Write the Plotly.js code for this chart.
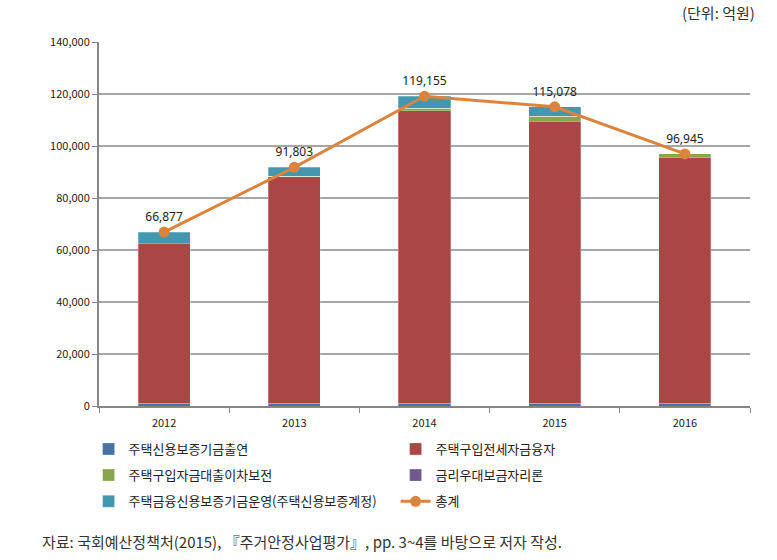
<!DOCTYPE html>
<html>
<head>
<meta charset="utf-8">
<script src="https://cdn.plot.ly/plotly-3.0.1.min.js"></script>
<style>
html,body{margin:0;padding:0;background:#fff;}
#chart{width:777px;height:560px;}
</style>
</head>
<body>
<div id="chart"></div>
<script>
const years = ['2012', '2013', '2014', '2015', '2016'];
const seriesNames = ['주택신용보증기금출연', '주택구입전세자금융자', '주택구입자금대출이차보전', '금리우대보금자리론', '주택금융신용보증기금운영(주택신용보증계정)', '총계'];
const guaranteeFund = [1100, 1100, 1100, 1100, 1100];
const purchaseLoan = [61300, 87100, 112400, 108500, 94400];
const interestSubsidy = [0, 200, 1000, 1900, 1445];
const bogeumjariLoan = [0, 0, 0, 0, 0];
const creditGuarantee = [4477, 3403, 4655, 3578, 0];
const totals = [66877, 91803, 119155, 115078, 96945];
const yTickVals = [0, 20000, 40000, 60000, 80000, 100000, 120000, 140000];

const colors = ['#4572A7', '#AA4643', '#89A54E', '#71588F', '#4198AF', '#DB843D'];
const barSeries = [guaranteeFund, purchaseLoan, interestSubsidy, bogeumjariLoan, creditGuarantee];
const legendIds = ['legend', 'legend', 'legend2', 'legend2', 'legend3', 'legend3'];

const traces = barSeries.map((vals, i) => ({
  type: 'bar', x: years, y: vals, name: seriesNames[i], legend: legendIds[i],
  marker: {color: colors[i], line: {color: 'rgba(255,255,255,0.5)', width: 0.5}},
  hoverinfo: 'none'
}));
traces.push({
  type: 'scatter', mode: 'lines+markers+text', x: years, y: totals, name: seriesNames[5], legend: legendIds[5],
  line: {color: colors[5], width: 3},
  marker: {color: colors[5], size: 11},
  text: totals.map(v => v.toLocaleString('en-US')),
  textposition: 'top center',
  textfont: {family: 'Noto Sans, DejaVu Sans, sans-serif', size: 12, color: '#222'},
  cliponaxis: false
});

function legendRow(yPos) {
  return {
    orientation: 'h', traceorder: 'normal',
    x: -0.016, xanchor: 'left', y: yPos, yanchor: 'middle',
    entrywidth: 262, entrywidthmode: 'pixels',
    itemwidth: 30, tracegroupgap: 0, bgcolor: 'rgba(0,0,0,0)',
    font: {family: 'Noto Sans CJK KR, sans-serif', size: 13, color: '#222'}
  };
}

const layout = {
  width: 777, height: 560,
  margin: {l: 99, r: 27, t: 42, b: 154},
  barmode: 'stack', bargap: 0.6,
  paper_bgcolor: '#fff', plot_bgcolor: '#fff',
  font: {family: 'Noto Sans CJK KR, Noto Sans, sans-serif', size: 12, color: '#222'},
  showlegend: true,
  xaxis: {
    type: 'category', showline: true, linecolor: '#868686', linewidth: 2,
    ticks: 'outside', tickson: 'boundaries', ticklen: 5, tickcolor: '#868686',
    ticklabelstandoff: 6,
    tickfont: {family: 'Noto Sans CJK KR, sans-serif', size: 11, color: '#222'},
    showgrid: false, zeroline: false
  },
  yaxis: {
    range: [0, 140000], tickvals: yTickVals, tickformat: ',d',
    showline: true, linecolor: '#868686', linewidth: 2,
    ticks: 'outside', ticklen: 5, tickcolor: '#868686',
    gridcolor: '#A6A6A6', gridwidth: 1.5, zeroline: false,
    tickfont: {family: 'Noto Sans CJK KR, sans-serif', size: 11, color: '#222'}
  },
  legend: legendRow(-0.118),
  legend2: legendRow(-0.19),
  legend3: legendRow(-0.262),
  annotations: [
    {text: '(단위: 억원)', xref: 'paper', yref: 'paper', x: 1.01, y: 1.0, yshift: 30,
     xanchor: 'right', yanchor: 'middle', showarrow: false,
     font: {family: 'Noto Sans CJK KR, sans-serif', size: 15, color: '#333'}},
    {text: '자료: 국회예산정책처(2015), 『주거안정사업평가』, pp. 3~4를 바탕으로 저자 작성.', xref: 'paper', yref: 'paper',
     x: -0.09, y: 0, yshift: -135, xanchor: 'left', yanchor: 'middle', showarrow: false,
     font: {family: 'Noto Sans CJK KR, sans-serif', size: 15, color: '#333'}}
  ]
};

Plotly.newPlot('chart', traces, layout, {displayModeBar: false, staticPlot: true});
</script>
</body>
</html>
